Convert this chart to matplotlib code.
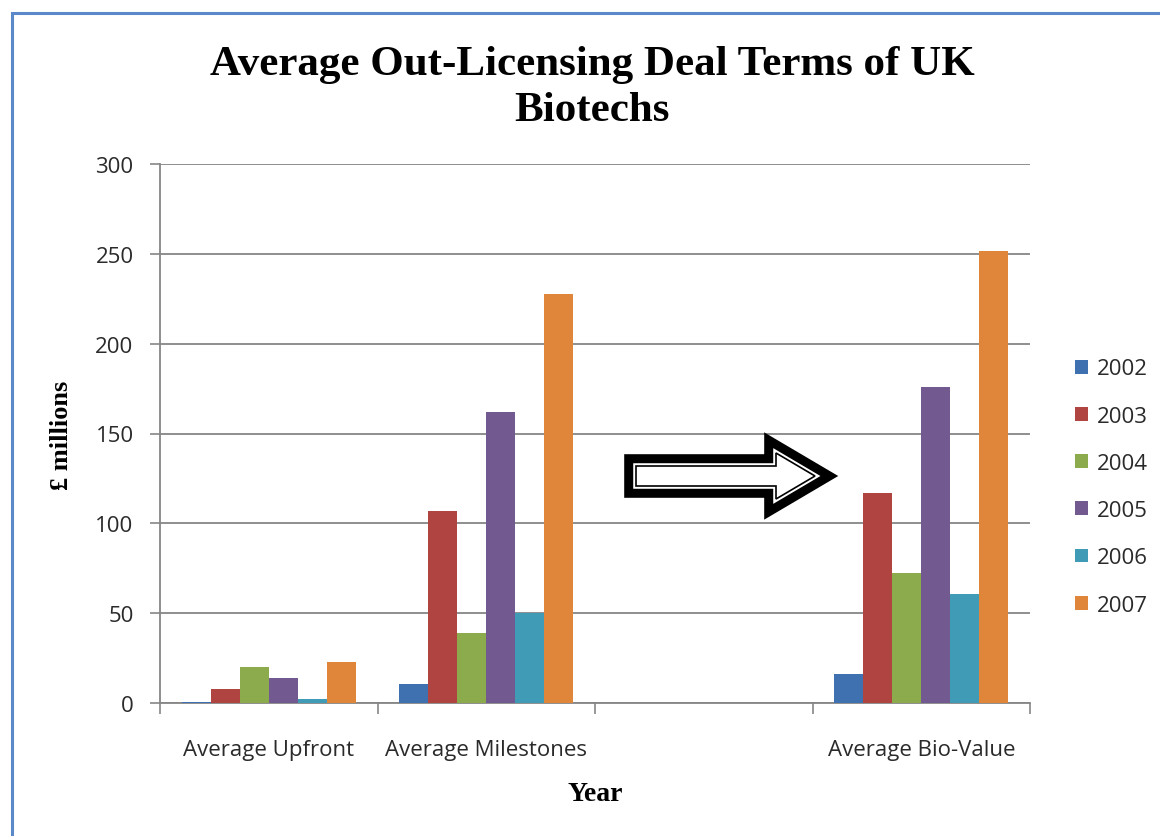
import matplotlib
matplotlib.use("Agg")
import matplotlib.pyplot as plt
import numpy as np
from matplotlib.patches import Rectangle, Polygon
import matplotlib.patheffects as pe

categories = ["Average Upfront", "Average Milestones", "", "Average Bio-Value"]
years = ["2002", "2003", "2004", "2005", "2006", "2007"]
v2002 = [0.8, 10.3, 0, 15.9]
v2003 = [7.6, 106.9, 0, 116.7]
v2004 = [20.0, 38.7, 0, 72.5]
v2005 = [14.1, 161.7, 0, 176.1]
v2006 = [2.1, 50.2, 0, 60.4]
v2007 = [22.7, 227.6, 0, 251.7]
series = [v2002, v2003, v2004, v2005, v2006, v2007]
colors = ["#3f70b0", "#b04441", "#8cab4d", "#72598f", "#3f9bb6", "#df863a"]

W, H = 1160, 837
fig = plt.figure(figsize=(W / 100, H / 100), dpi=100)
fig.patch.set_facecolor("white")

# chart border
fig.add_artist(Rectangle((12 / W, -0.01), 1.2, 1 - 14 / H + 0.01, transform=fig.transFigure,
                         fill=False, edgecolor="#5b88c9", linewidth=2.2))

ax = fig.add_axes([160 / W, 1 - 704 / H, (1030 - 160) / W, (704 - 165) / H])

tick_font = "Open Sans"
tsize = 16
tcolor = "#2a2a2a"
gray = "#868686"
n = len(series)
bw = 1 / 7.5
x = np.arange(len(categories))
for i, (vals, c, yr) in enumerate(zip(series, colors, years)):
    ax.bar(x + (i - (n - 1) / 2) * bw, vals, width=bw, color=c, label=yr, zorder=3)

ax.set_xlim(-0.5, len(categories) - 0.5)
ax.set_ylim(0, 300)
ax.set_yticks(np.arange(0, 301, 50))
ax.yaxis.grid(True, color=gray, linewidth=1.3, zorder=0)
ax.set_axisbelow(True)
ax.set_xticks(x)
ax.set_xticklabels(categories, fontfamily=tick_font, fontsize=tsize, color=tcolor)
ax.set_xticks(np.arange(-0.5, len(categories)), minor=True)
ax.tick_params(axis="x", which="major", length=0, pad=26)
ax.tick_params(axis="x", which="minor", length=8, color=gray, width=1.2, direction="out")
ax.tick_params(axis="y", length=7, color=gray, width=1.2, pad=12, labelsize=tsize, labelcolor=tcolor)
for lab in ax.get_yticklabels():
    lab.set_fontfamily(tick_font)
for s in ["top", "right"]:
    ax.spines[s].set_visible(False)
for s in ["left", "bottom"]:
    ax.spines[s].set_color(gray)
    ax.spines[s].set_linewidth(1.3)

fig.text(592 / W, 1 - 88 / H, "Average Out-Licensing Deal Terms of UK\nBiotechs", ha="center", va="center",
         fontfamily="Liberation Serif", fontweight="bold", fontsize=31, linespacing=1.27)
fig.text(62 / W, 1 - 435 / H, "£ millions", rotation=90, ha="center", va="center",
         fontfamily="Liberation Serif", fontweight="bold", fontsize=19)
fig.text(595 / W, 1 - 795 / H, "Year", ha="center", va="center",
         fontfamily="Liberation Serif", fontweight="bold", fontsize=20)

leg = fig.legend(loc="center left", bbox_to_anchor=(1055 / W, 1 - 488 / H), frameon=False,
                 prop={"family": tick_font, "size": tsize}, handlelength=0.58, handleheight=0.58,
                 handletextpad=0.4, labelspacing=1.18)
for t in leg.get_texts():
    t.set_color(tcolor)

# block arrow annotation (pixel positions in figure)
pts = [(636, 467), (776, 467), (776, 454), (815, 477), (776, 500), (776, 487), (636, 487)]
arrow = Polygon([(px / W, 1 - py / H) for px, py in pts], closed=True, transform=fig.transFigure,
                facecolor="white", edgecolor="black", linewidth=1.2, joinstyle="miter")
arrow.set_path_effects([pe.Stroke(linewidth=17, foreground="black", joinstyle="miter"),
                        pe.Stroke(linewidth=4, foreground="white", joinstyle="miter"),
                        pe.Normal()])
fig.add_artist(arrow)

fig.savefig("out.png", dpi=100, facecolor="white")
